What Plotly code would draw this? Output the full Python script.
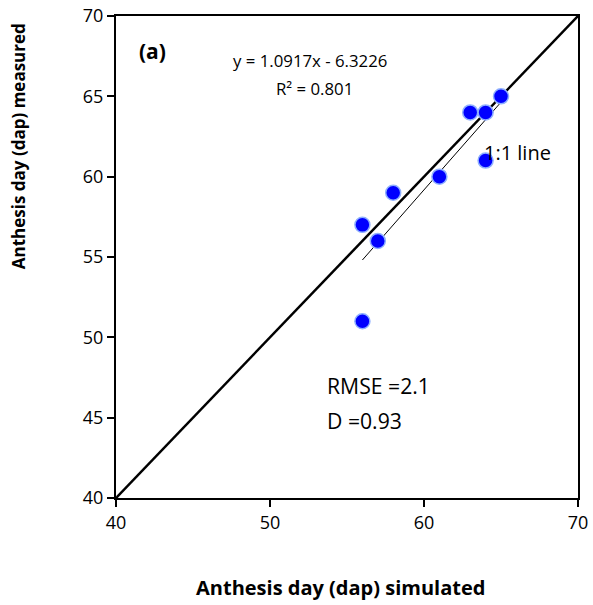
import plotly.graph_objects as go

simulated = [56, 56, 57, 58, 61, 63, 64, 65, 64]
measured = [57, 51, 56, 59, 60, 64, 64, 65, 61]
one_to_one = [40, 70]
slope, intercept = 1.0917, -6.3226
trend_x = [min(simulated), max(simulated)]
trend_y = [slope * v + intercept for v in trend_x]
tick_x = [40, 50, 60, 70]
tick_y = [40, 45, 50, 55, 60, 65, 70]

FONT = "Open Sans, Lato, sans-serif"

fig = go.Figure()
fig.add_trace(go.Scatter(x=one_to_one, y=one_to_one, mode="lines",
                         line=dict(color="black", width=2.5), showlegend=False))
fig.add_trace(go.Scatter(x=trend_x, y=trend_y, mode="lines",
                         line=dict(color="black", width=1), showlegend=False))
fig.add_trace(go.Scatter(x=simulated, y=measured, mode="markers",
                         marker=dict(color="#0000ff", size=15,
                                     line=dict(color="#8fb0ff", width=1.5)),
                         showlegend=False))

axis_common = dict(showline=True, linecolor="black", linewidth=2, mirror=True,
                   ticks="outside", ticklen=7, tickcolor="black", tickwidth=1.5,
                   showgrid=False, zeroline=False, automargin=False,
                   tickfont=dict(family=FONT, size=18, color="black"))
fig.update_xaxes(range=[40, 70], tickvals=tick_x, **axis_common)
fig.update_yaxes(range=[40, 70], tickvals=tick_y, **axis_common)

fig.add_annotation(xref="paper", yref="paper", x=0.486, y=-0.185,
                   xanchor="center", yanchor="middle",
                   text="<b>Anthesis day (dap) simulated</b>", showarrow=False,
                   font=dict(family=FONT, size=20, color="black"))
fig.add_annotation(xref="paper", yref="paper", x=-0.212, y=0.73, textangle=-90,
                   xanchor="center", yanchor="middle",
                   text="<b>Anthesis day (dap) measured</b>", showarrow=False,
                   font=dict(family=FONT, size=17, color="black"))

fig.add_annotation(x=42.34, y=67.8, text="<b>(a)</b>", showarrow=False,
                   font=dict(family=FONT, size=21, color="black"))
fig.add_annotation(x=52.6, y=67.26, text="y = 1.0917x - 6.3226", showarrow=False,
                   font=dict(family=FONT, size=16.8, color="black"))
fig.add_annotation(x=52.9, y=65.5, text="R² = 0.801", showarrow=False,
                   font=dict(family=FONT, size=16.8, color="black"))
fig.add_annotation(x=66.1, y=61.5, text="1:1 line", showarrow=False,
                   font=dict(family=FONT, size=20, color="black"))
fig.add_annotation(x=53.6, y=47.03, text="RMSE =2.1", showarrow=False, xanchor="left",
                   font=dict(family=FONT, size=21.2, color="black"))
fig.add_annotation(x=53.6, y=44.85, text="D =0.93", showarrow=False, xanchor="left",
                   font=dict(family=FONT, size=21.2, color="black"))

fig.update_layout(width=593, height=605, plot_bgcolor="white", paper_bgcolor="white",
                  margin=dict(l=116, r=15, t=16, b=107))
fig.write_html("out.html")
